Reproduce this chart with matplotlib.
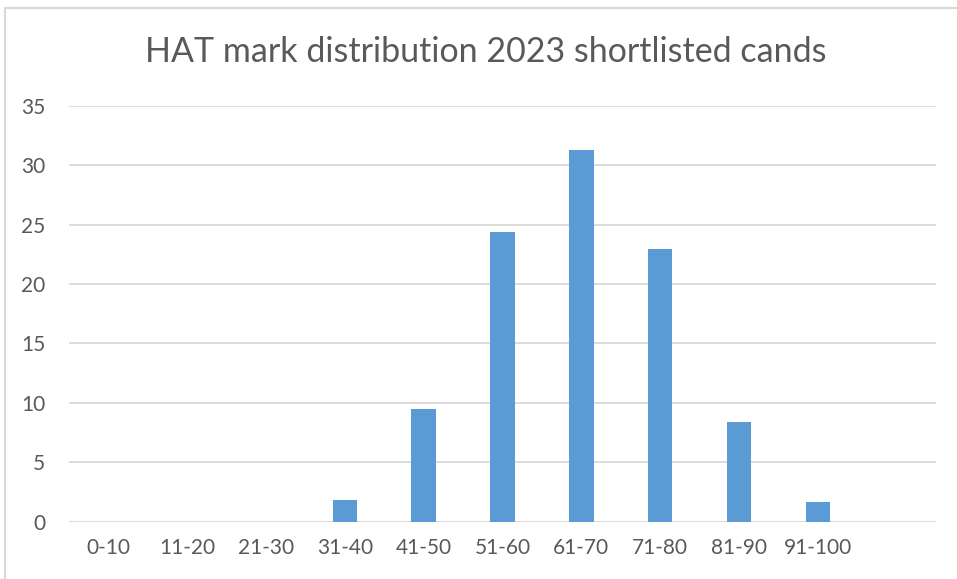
import matplotlib
matplotlib.use("Agg")
import matplotlib.pyplot as plt
from matplotlib.lines import Line2D

# data
categories = ["0-10", "11-20", "21-30", "31-40", "41-50", "51-60",
              "61-70", "71-80", "81-90", "91-100", ""]
counts = [0, 0, 0, 1.83, 9.46, 24.37, 31.27, 22.92, 8.39, 1.66, 0]
y_ticks = [0, 5, 10, 15, 20, 25, 30, 35]

plt.rcParams['font.family'] = ['Lato', 'DejaVu Sans']
text_color = '#595959'

fig = plt.figure(figsize=(9.57, 5.79), dpi=100)
ax = fig.add_axes([69 / 957, 1 - 521.7 / 579, 867 / 957, (521.7 - 105.7) / 579])

x = list(range(len(categories)))
ax.bar(x, counts, width=0.31, color='#5b9bd5', zorder=3)

ax.set_xlim(-0.5, len(categories) - 0.5)
ax.set_ylim(0, 35)
ax.set_yticks(y_ticks)
ax.set_xticks(x)
ax.set_xticklabels(categories)
ax.yaxis.grid(True, color='#d9d9d9', linewidth=1.3, zorder=0)
ax.tick_params(axis='both', length=0, labelsize=15, labelcolor=text_color)
ax.tick_params(axis='x', pad=12)
ax.tick_params(axis='y', pad=17)
for s in ax.spines.values():
    s.set_visible(False)

fig.text(486 / 957, 1 - 62 / 579, "HAT mark distribution 2023 shortlisted cands",
         ha='center', va='baseline', fontsize=24.5, color=text_color)

# chart area border (left and top edges visible)
fig.add_artist(Line2D([5 / 957, 5 / 957], [0, 1 - 7.5 / 579],
                      transform=fig.transFigure, color='#d9d9d9', linewidth=1.5))
fig.add_artist(Line2D([5 / 957, 1], [1 - 7.5 / 579, 1 - 7.5 / 579],
                      transform=fig.transFigure, color='#d9d9d9', linewidth=1.5))

fig.savefig("out.png", dpi=100)
